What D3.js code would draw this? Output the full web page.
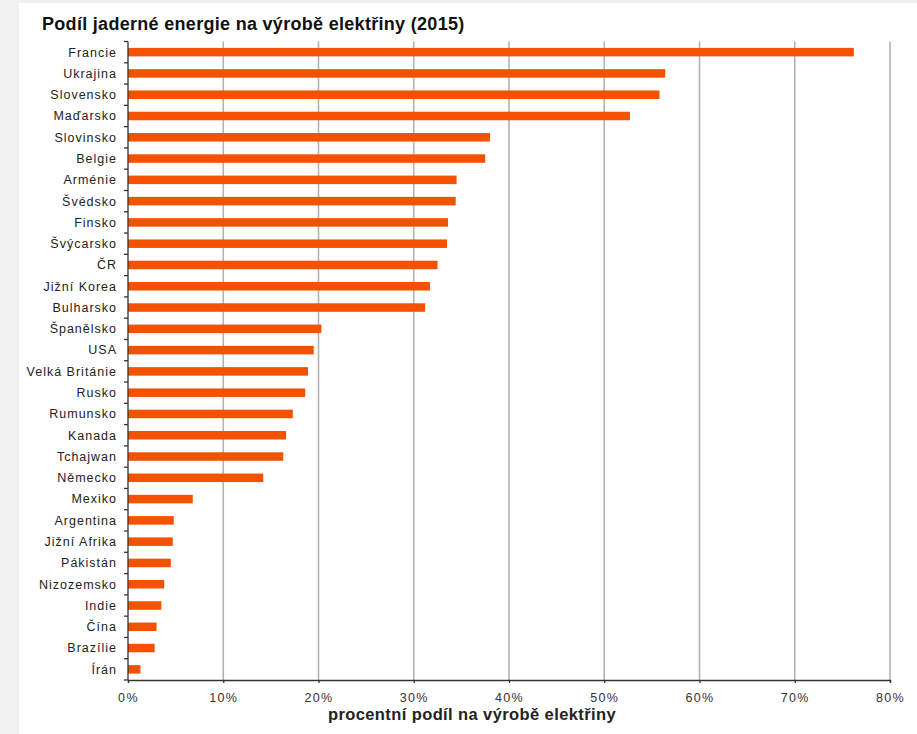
<!DOCTYPE html>
<html>
<head>
<meta charset="utf-8">
<script src="https://cdn.jsdelivr.net/npm/d3@7"></script>
<style>
  body { margin: 0; background: #f1f1f1; }
  svg { display: block; }
  text { font-family: "Liberation Sans", Arial, sans-serif; }
</style>
</head>
<body>
<svg width="917" height="734"></svg>
<script>
var countries = ["Francie", "Ukrajina", "Slovensko", "Maďarsko", "Slovinsko", "Belgie", "Arménie",
    "Švédsko", "Finsko", "Švýcarsko", "ČR", "Jižní Korea", "Bulharsko", "Španělsko", "USA",
    "Velká Británie", "Rusko", "Rumunsko", "Kanada", "Tchajwan", "Německo", "Mexiko", "Argentina",
    "Jižní Afrika", "Pákistán", "Nizozemsko", "Indie", "Čína", "Brazílie", "Írán"];
var shares = [76.2, 56.4, 55.8, 52.7, 38.0, 37.5, 34.5,
    34.4, 33.6, 33.5, 32.5, 31.7, 31.2, 20.3, 19.5,
    18.9, 18.6, 17.3, 16.6, 16.3, 14.2, 6.8, 4.8,
    4.7, 4.5, 3.8, 3.5, 3.0, 2.8, 1.3];
var xTicks = [0, 10, 20, 30, 40, 50, 60, 70, 80];
var title = "Podíl jaderné energie na výrobě elektřiny (2015)";
var xTitle = "procentní podíl na výrobě elektřiny";

var svg = d3.select("svg"),
    margin = {top: 41.5, left: 128, right: 27, bottom: 54},
    width = +svg.attr("width"),
    height = +svg.attr("height");

// white panel
svg.append("rect")
    .attr("x", 19).attr("y", 3)
    .attr("width", width - 19).attr("height", height - 3)
    .attr("fill", "#fff");

var x = d3.scaleLinear()
    .domain([0, 80])
    .range([margin.left, width - margin.right]);
var y = d3.scaleBand()
    .domain(countries)
    .range([margin.top, height - margin.bottom])
    .paddingInner(0.6)
    .paddingOuter(0.3);

var bottom = height - margin.bottom;

// gridlines
svg.append("g")
    .selectAll("line")
    .data(xTicks.slice(1))
    .enter().append("line")
    .attr("x1", function (d) { return x(d); })
    .attr("x2", function (d) { return x(d); })
    .attr("y1", margin.top)
    .attr("y2", bottom)
    .attr("stroke", "#b3b3b3")
    .attr("stroke-width", 1.6);

// bars
svg.append("g")
    .selectAll("rect")
    .data(countries)
    .enter().append("rect")
    .attr("x", x(0))
    .attr("y", function (d) { return y(d); })
    .attr("width", function (d, i) { return x(shares[i]) - x(0); })
    .attr("height", y.bandwidth())
    .attr("fill", "#f45100");

// x axis
var xAxis = svg.append("g")
    .attr("transform", "translate(0," + bottom + ")")
    .call(d3.axisBottom(x)
        .tickValues(xTicks)
        .tickSize(3)
        .tickPadding(10)
        .tickFormat(function (d) { return d + "%"; }));
xAxis.select(".domain").attr("stroke", "#333").attr("stroke-width", 1.3);
xAxis.selectAll(".tick line").attr("stroke", "#333").attr("stroke-width", 1.3);
xAxis.selectAll("text")
    .attr("font-size", 12.5)
    .attr("letter-spacing", 1.4)
    .attr("fill", "#333")
    .style("font-family", "'Liberation Sans', Arial, sans-serif");

// y axis: ticks between categories
var step = y.step();
var yAxis = svg.append("g");
yAxis.append("line")
    .attr("x1", x(0)).attr("x2", x(0))
    .attr("y1", margin.top).attr("y2", bottom)
    .attr("stroke", "#333").attr("stroke-width", 1.3);
yAxis.selectAll("line.tk")
    .data(d3.range(countries.length + 1))
    .enter().append("line")
    .attr("class", "tk")
    .attr("x1", x(0) - 4).attr("x2", x(0))
    .attr("y1", function (i) { return margin.top + i * step; })
    .attr("y2", function (i) { return margin.top + i * step; })
    .attr("stroke", "#333").attr("stroke-width", 1.3);
yAxis.selectAll("text")
    .data(countries)
    .enter().append("text")
    .attr("x", x(0) - 11)
    .attr("y", function (d) { return y(d) + y.bandwidth() / 2; })
    .attr("dy", "0.35em")
    .attr("text-anchor", "end")
    .attr("font-size", 12.5)
    .attr("letter-spacing", 1.0)
    .attr("fill", "#222")
    .text(function (d) { return d; });

// titles
svg.append("text")
    .attr("x", 42).attr("y", 30)
    .attr("font-size", 18)
    .attr("font-weight", "bold")
    .attr("letter-spacing", 0.3)
    .attr("fill", "#111")
    .text(title);

svg.append("text")
    .attr("x", 472).attr("y", 720)
    .attr("text-anchor", "middle")
    .attr("font-size", 16.5)
    .attr("font-weight", "bold")
    .attr("letter-spacing", 0.4)
    .attr("fill", "#222")
    .text(xTitle);
</script>
</body>
</html>
